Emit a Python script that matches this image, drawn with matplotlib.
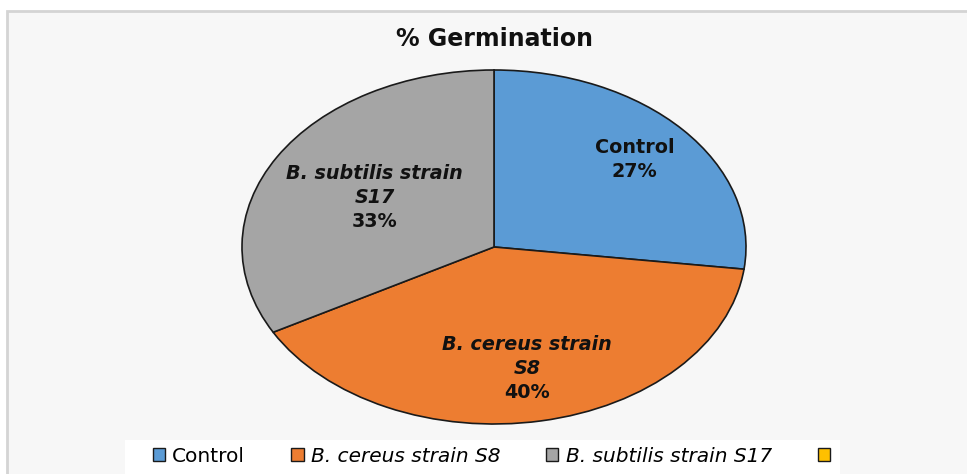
import matplotlib.pyplot as plt
import numpy as np
from matplotlib.patches import Rectangle

# data
categories = ["Control", "B. cereus strain S8", "B. subtilis strain S17", ""]
values = [27, 40, 33]
slice_labels = [["Control"], ["B. cereus strain", "S8"], ["B. subtilis strain", "S17"]]
italic_names = [False, True, True]
colors = ["#5B9BD5", "#ED7D31", "#A5A5A5", "#FFC000"]

plt.rcParams['font.family'] = ['DejaVu Sans']

fig = plt.figure(figsize=(9.67, 4.74), dpi=100)
fig.patch.set_facecolor("white")

# chart frame (light background, grey border)
fig.add_artist(Rectangle((7 / 967, -0.05), 1.1, (474 - 11) / 474 + 0.05,
                         transform=fig.transFigure, facecolor="#f7f7f7",
                         edgecolor="#d4d4d4", lw=2, zorder=0))

ax = fig.add_axes([242 / 967, 50 / 474, 504 / 967, 354 / 474])
wedges, _ = ax.pie(values, colors=colors[:3], startangle=90, counterclock=False,
                   wedgeprops=dict(edgecolor="#1a1a1a", linewidth=1.2))
ax.set_aspect("auto")
ax.set_xlim(-1, 1)
ax.set_ylim(-1, 1)

# in-slice labels
radii = [0.745, 0.70, 0.55]
line_step = 17.3
total = sum(values)
for w, r, name, ital, v in zip(wedges, radii, slice_labels, italic_names, values):
    mid = np.deg2rad((w.theta1 + w.theta2) / 2)
    x, y = r * np.cos(mid), r * np.sin(mid)
    lines = name + ["%d%%" % round(100 * v / total)]
    n = len(lines)
    for i, ln in enumerate(lines):
        is_pct = i == n - 1
        ax.annotate(ln, (x, y), xytext=(0, ((n - 1) / 2 - i) * line_step),
                    textcoords="offset points", ha="center", va="center",
                    fontsize=13.8, fontweight="bold", color="#111111",
                    fontstyle="italic" if (ital and not is_pct) else "normal")

fig.text(0.511, 1 - 39 / 474, "% Germination", ha="center", va="center",
         fontsize=17, fontweight="bold", color="#111111")

# legend box
fig.add_artist(Rectangle((125 / 967, -0.05), (840 - 125) / 967, (474 - 440) / 474 + 0.05,
                         transform=fig.transFigure, facecolor="white",
                         edgecolor="none", zorder=1))
handles = [Rectangle((0, 0), 1, 1, facecolor=c, edgecolor="#1a1a1a", lw=1.0) for c in colors]
leg = fig.legend(handles, categories, loc="center", bbox_to_anchor=(0.512, (474 - 456) / 474),
                 ncol=4, frameon=False, fontsize=14.5, handlelength=0.6, handleheight=0.6,
                 handletextpad=0.35, columnspacing=2.3)
leg.set_zorder(2)
for t in leg.get_texts()[1:]:
    t.set_fontstyle("italic")

fig.savefig("out.png", dpi=100)
